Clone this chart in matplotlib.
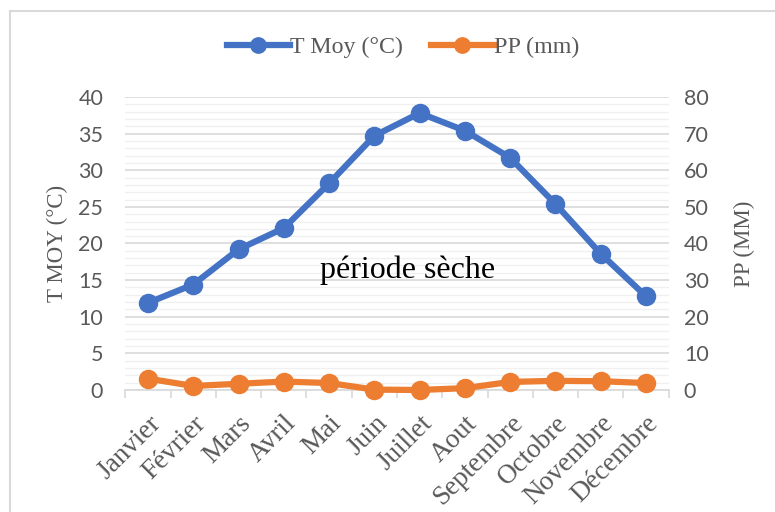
import numpy as np
import matplotlib.pyplot as plt
from matplotlib.lines import Line2D
from matplotlib.ticker import MultipleLocator

# Ombrothermic diagram: mean temperature vs. precipitation per month
mois = ["Janvier", "Février", "Mars", "Avril", "Mai", "Juin", "Juillet",
        "Aout", "Septembre", "Octobre", "Novembre", "Décembre"]
t_moy = [11.9, 14.4, 19.2, 22.1, 28.2, 34.7, 37.8, 35.4, 31.7, 25.4, 18.6, 12.8]
pp_mm = [3.1, 1.1, 1.7, 2.3, 1.9, 0.1, 0.0, 0.5, 2.2, 2.5, 2.4, 1.9]

BLUE = "#4472C4"
ORANGE = "#ED7D31"
GREY_TXT = "#595959"
SERIF = "Liberation Serif"
SANS = "Lato"

fig = plt.figure(figsize=(7.75, 5.12), dpi=100)
ax = fig.add_axes([0.1618, 0.2383, 0.7009, 0.5723])
ax2 = ax.twinx()

x = np.arange(len(mois))

# --- gridlines (major every 5, minor every 1) ---
ax.set_ylim(0, 40)
ax.yaxis.set_major_locator(MultipleLocator(5))
ax.yaxis.set_minor_locator(MultipleLocator(1))
ax.grid(axis="y", which="major", color="#d9d9d9", lw=1.2)
ax.grid(axis="y", which="minor", color="#f0f0f0", lw=1.0)
ax.set_axisbelow(True)

ax2.set_ylim(0, 80)
ax2.yaxis.set_major_locator(MultipleLocator(10))

# --- series ---
l1, = ax.plot(x, t_moy, color=BLUE, lw=4.5, marker="o", ms=13, zorder=3,
              label="T Moy (°C)")
l2, = ax2.plot(x, pp_mm, color=ORANGE, lw=4.5, marker="o", ms=13, zorder=3,
               label="PP (mm)", clip_on=False)

# --- x axis: category ticks on boundaries ---
ax.set_xlim(-0.5, len(mois) - 0.5)
ax.set_xticks(x)
ax.set_xticklabels(mois, rotation=45, ha="right", rotation_mode="anchor",
                   fontfamily=SERIF, fontsize=19.5, color=GREY_TXT)
ax.tick_params(axis="x", which="major", length=0, pad=15)
ax.set_xticks(np.arange(-0.5, len(mois), 1.0), minor=True)
ax.tick_params(axis="x", which="minor", length=6, color="#d9d9d9", width=1.2)

for a in (ax, ax2):
    for s in a.spines.values():
        s.set_visible(False)
ax.spines["bottom"].set_visible(True)
ax.spines["bottom"].set_color("#d9d9d9")
ax.spines["bottom"].set_linewidth(1.2)

ax.tick_params(axis="y", which="both", length=0, pad=16, labelsize=15.5,
               labelcolor=GREY_TXT)
ax2.tick_params(axis="y", which="both", length=0, pad=11, labelsize=15.5,
                labelcolor=GREY_TXT)
for lab in ax.get_yticklabels() + ax2.get_yticklabels():
    lab.set_fontfamily(SANS)

ax.set_ylabel("T MOY (°C)", fontfamily=SERIF, fontsize=16.5, color=GREY_TXT,
              labelpad=7)
ax2.set_ylabel("PP (MM)", fontfamily=SERIF, fontsize=16.5, color=GREY_TXT,
               labelpad=18)

ax.text(5.74, 16.4, "période sèche", fontfamily=SERIF, fontsize=23,
        color="black", ha="center", va="center")

fig.legend(handles=[l1, l2], loc="center", bbox_to_anchor=(0.52, 0.908),
           ncol=2, frameon=False, handlelength=2.6, handletextpad=0.0,
           columnspacing=1.2, prop={"family": SERIF, "size": 17.3},
           labelcolor=GREY_TXT, markerscale=0.85)

# chart-area border (only top and left visible in the crop)
fig.add_artist(Line2D([9.5 / 775, 1], [1 - 10.5 / 512] * 2, color="#d9d9d9",
                      lw=1.5, transform=fig.transFigure))
fig.add_artist(Line2D([9.5 / 775] * 2, [0, 1 - 10.5 / 512], color="#d9d9d9",
                      lw=1.5, transform=fig.transFigure))

fig.savefig("out.png", dpi=100)
